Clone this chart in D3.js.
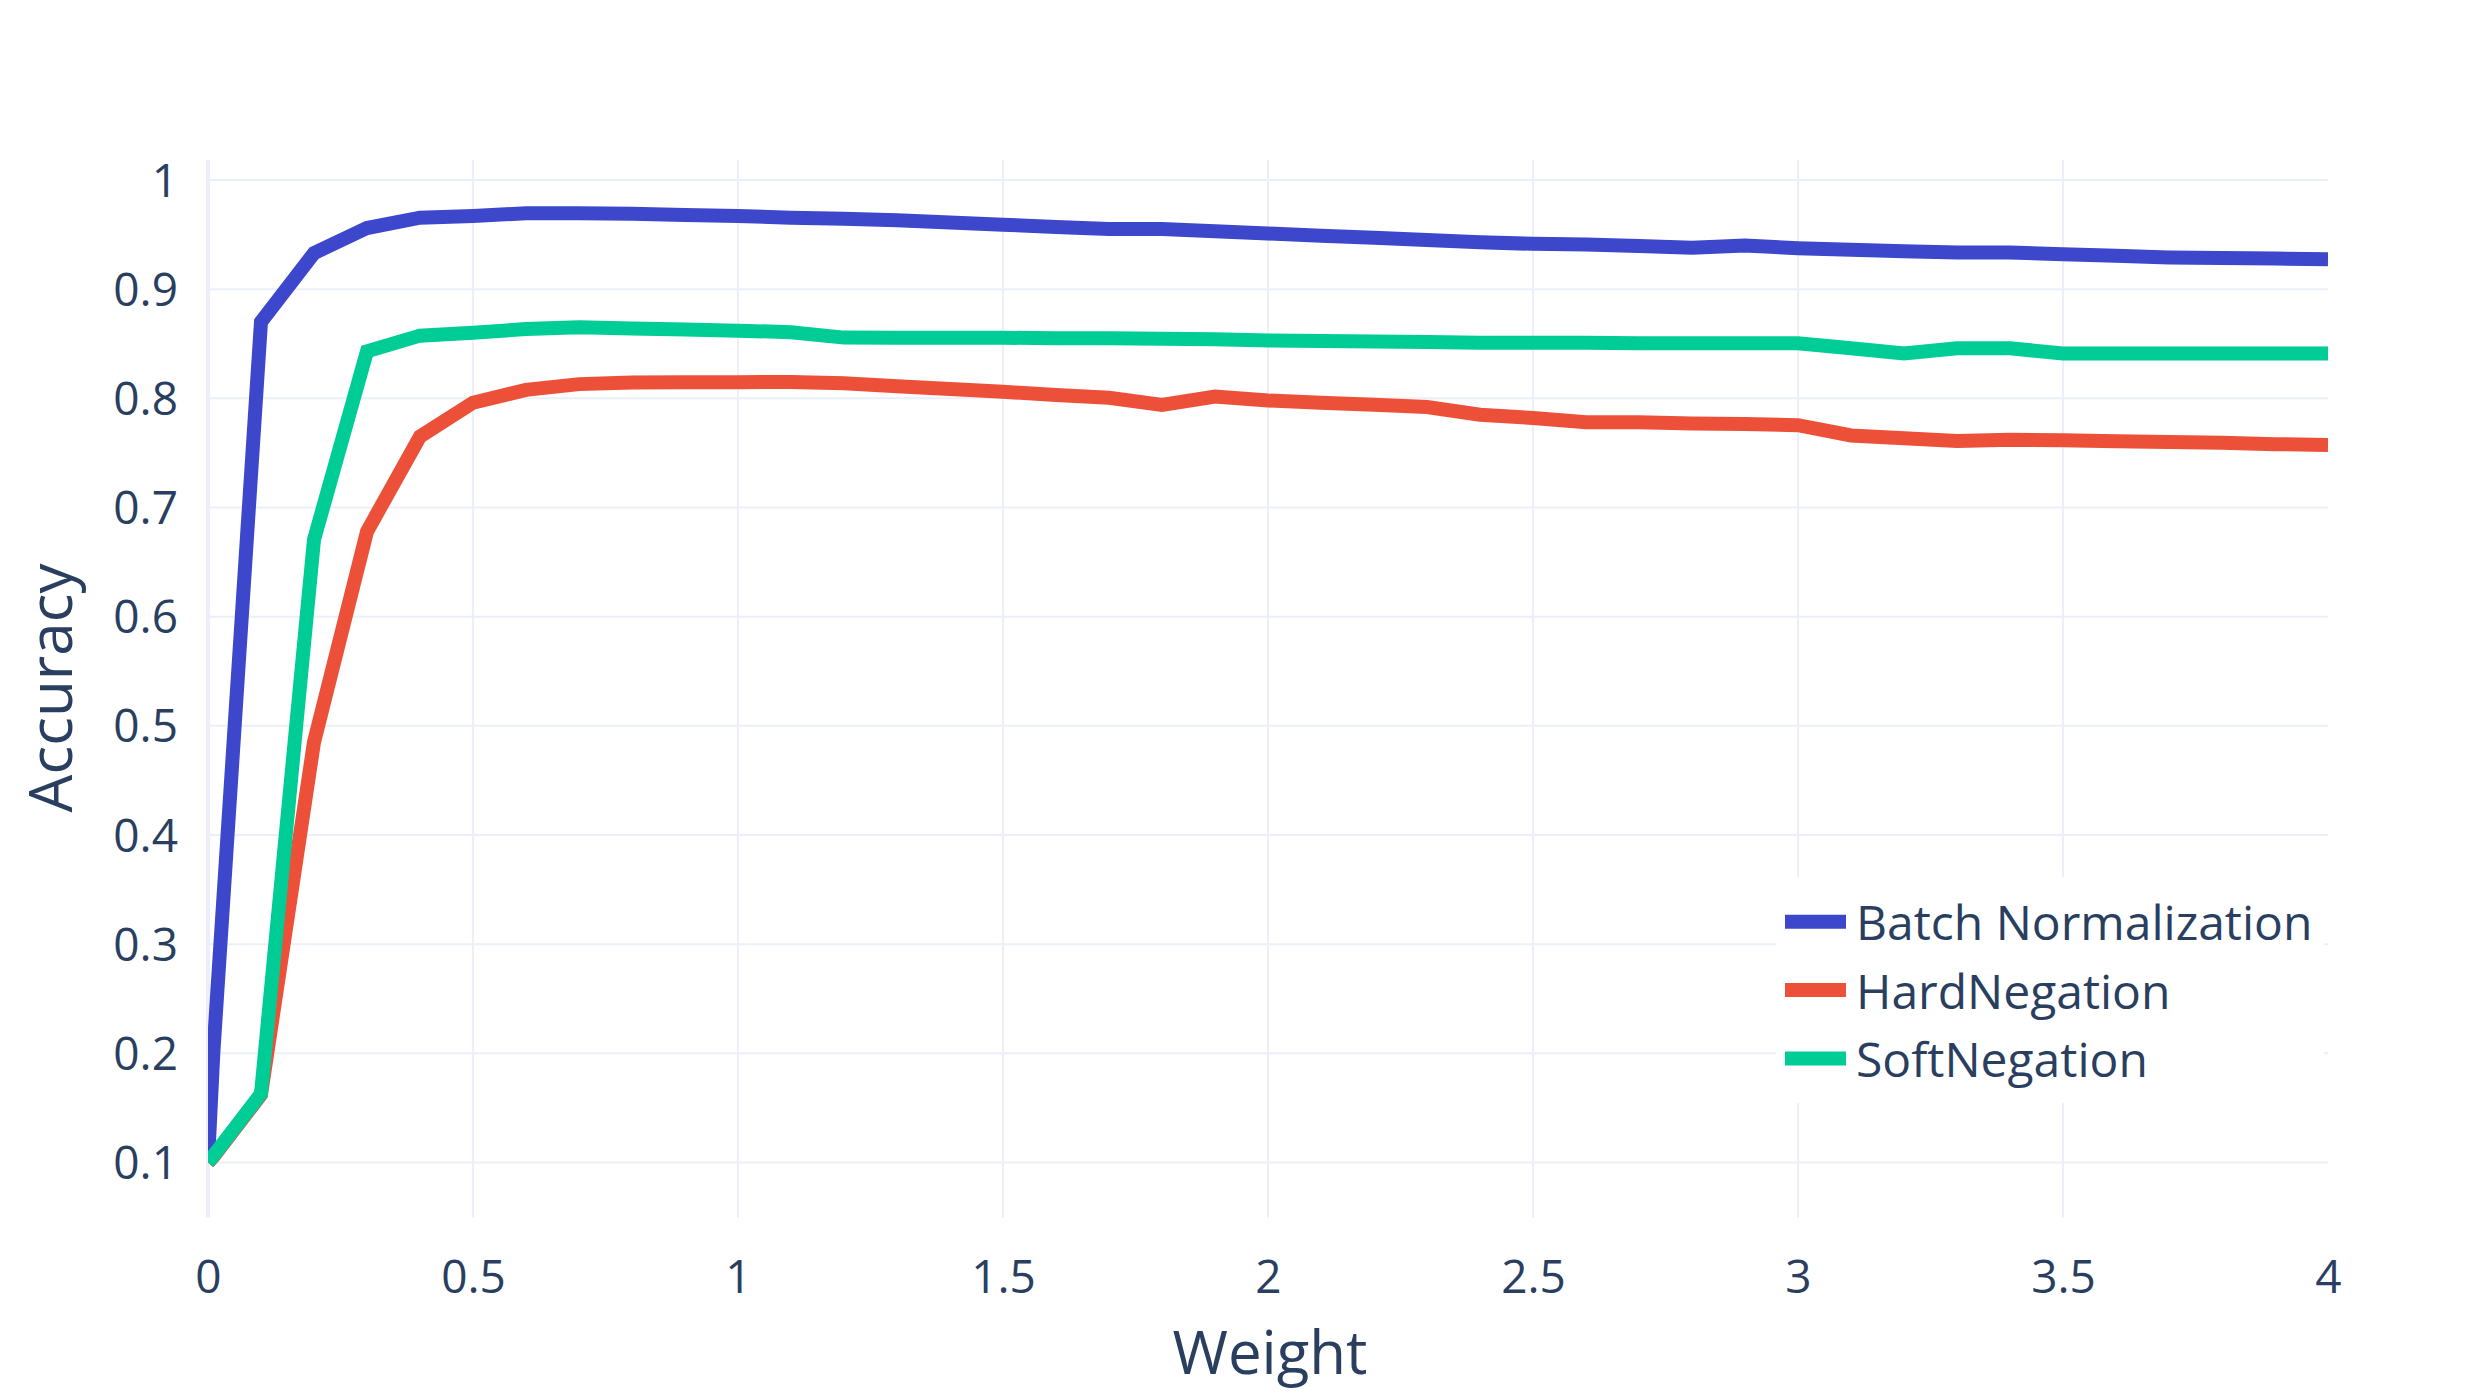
<!DOCTYPE html>
<html>
<head>
<meta charset="utf-8">
<script src="https://cdn.jsdelivr.net/npm/d3@7"></script>
<style>
  html, body { margin: 0; padding: 0; background: #ffffff; }
  svg { display: block; }
</style>
</head>
<body>
<svg id="chart" width="2490" height="1393"></svg>
<script>
// ---------------- data ----------------
const weights = [0, 0.01, 0.1, 0.2, 0.3, 0.4, 0.5, 0.6, 0.7, 0.8, 0.9, 1.0,
  1.1, 1.2, 1.3, 1.4, 1.5, 1.6, 1.7, 1.8, 1.9, 2.0,
  2.1, 2.2, 2.3, 2.4, 2.5, 2.6, 2.7, 2.8, 2.9, 3.0,
  3.1, 3.2, 3.3, 3.4, 3.5, 3.6, 3.7, 3.8, 3.9, 4.0];

const batchNorm = [0.1, 0.2, 0.87, 0.933, 0.956, 0.9655, 0.967, 0.9695, 0.9695, 0.969, 0.968, 0.967,
  0.9655, 0.9645, 0.963, 0.961, 0.959, 0.957, 0.955, 0.955, 0.953, 0.951,
  0.949, 0.947, 0.945, 0.943, 0.9415, 0.941, 0.9395, 0.938, 0.9399, 0.9375,
  0.936, 0.9347, 0.9335, 0.9335, 0.932, 0.9305, 0.929, 0.9285, 0.928, 0.9274];

const hardNeg = [0.1, 0.105, 0.162, 0.485, 0.678, 0.765, 0.796, 0.8077, 0.813, 0.8145, 0.8147, 0.8148,
  0.815, 0.8138, 0.811, 0.8085, 0.806, 0.803, 0.8005, 0.794, 0.8016, 0.798,
  0.796, 0.794, 0.792, 0.785, 0.782, 0.778, 0.778, 0.777, 0.7765, 0.7754,
  0.766, 0.7635, 0.761, 0.762, 0.7615, 0.7607, 0.760, 0.7592, 0.758, 0.7573];

const softNeg = [0.1, 0.106, 0.163, 0.6705, 0.843, 0.8574, 0.860, 0.8635, 0.865, 0.864, 0.863, 0.862,
  0.8605, 0.8556, 0.8555, 0.8555, 0.8555, 0.855, 0.855, 0.8545, 0.854, 0.853,
  0.8525, 0.852, 0.8515, 0.851, 0.851, 0.851, 0.8505, 0.8505, 0.8505, 0.8505,
  0.8459, 0.841, 0.8459, 0.8459, 0.841, 0.841, 0.841, 0.841, 0.841, 0.841];

const seriesNames = ["Batch Normalization", "HardNegation", "SoftNegation"];
const seriesColors = ["#3d47cc", "#ec5039", "#00cc96"];
const seriesValues = [batchNorm, hardNeg, softNeg];

const xTicks = [0, 0.5, 1, 1.5, 2, 2.5, 3, 3.5, 4];
const xTickLabels = ["0", "0.5", "1", "1.5", "2", "2.5", "3", "3.5", "4"];
const yTicks = [0.1, 0.2, 0.3, 0.4, 0.5, 0.6, 0.7, 0.8, 0.9, 1];
const yTickLabels = ["0.1", "0.2", "0.3", "0.4", "0.5", "0.6", "0.7", "0.8", "0.9", "1"];

const xTitle = "Weight";
const yTitle = "Accuracy";

// ---------------- layout ----------------
const plot = { left: 208, right: 2328, top: 160, bottom: 1217.5 };
const textColor = "#2a3f5f";
const gridColor = "#ebf0f8";
const fontFamily = "'Open Sans', 'Noto Sans', sans-serif";

const x = d3.scaleLinear().domain([0, 4]).range([plot.left, plot.right]);
const y = d3.scaleLinear().domain([0.0496, 1.0183]).range([plot.bottom, plot.top]);

const svg = d3.select("#chart");
svg.append("rect").attr("width", 2490).attr("height", 1393).attr("fill", "#ffffff");

// grid
const grid = svg.append("g");
grid.selectAll("line.hg").data(yTicks).enter().append("line")
  .attr("x1", plot.left).attr("x2", plot.right)
  .attr("y1", d => y(d)).attr("y2", d => y(d))
  .attr("stroke", gridColor).attr("stroke-width", 2);
grid.selectAll("line.vg").data(xTicks.filter(d => d > 0 && d < 4)).enter().append("line")
  .attr("x1", d => x(d)).attr("x2", d => x(d))
  .attr("y1", plot.top).attr("y2", plot.bottom)
  .attr("stroke", gridColor).attr("stroke-width", 2);
// zero line
grid.append("line")
  .attr("x1", x(0)).attr("x2", x(0))
  .attr("y1", plot.top).attr("y2", plot.bottom)
  .attr("stroke", gridColor).attr("stroke-width", 4);

// clip
svg.append("defs").append("clipPath").attr("id", "plotclip")
  .append("rect").attr("x", plot.left).attr("y", plot.top)
  .attr("width", plot.right - plot.left).attr("height", plot.bottom - plot.top);

const lineGen = d3.line().x(d => x(d[0])).y(d => y(d[1]));
const linesG = svg.append("g").attr("clip-path", "url(#plotclip)");
seriesValues.forEach((vals, i) => {
  const pts = weights.map((w, j) => [w, vals[j]]);
  linesG.append("path")
    .datum(pts)
    .attr("d", lineGen)
    .attr("fill", "none")
    .attr("stroke", seriesColors[i])
    .attr("stroke-width", 14)
    .attr("stroke-linejoin", "miter");
});

// axes tick labels
const xAxis = d3.axisBottom(x).tickValues(xTicks).tickFormat((d, i) => xTickLabels[i]).tickSize(0).tickPadding(0);
const xg = svg.append("g").attr("transform", `translate(0, ${plot.bottom})`).call(xAxis);
xg.select(".domain").remove();
xg.selectAll("text")
  .attr("y", 1293 - plot.bottom).attr("dy", null)
  .attr("fill", textColor).style("font-family", fontFamily).style("font-size", "46px");

const yAxis = d3.axisLeft(y).tickValues(yTicks).tickFormat((d, i) => yTickLabels[i]).tickSize(0).tickPadding(0);
const yg = svg.append("g").attr("transform", `translate(${plot.left}, 0)`).call(yAxis);
yg.select(".domain").remove();
yg.selectAll("text")
  .attr("x", 178 - plot.left).attr("dy", "0.35em")
  .attr("fill", textColor).style("font-family", fontFamily).style("font-size", "46px");

// axis titles
svg.append("text")
  .attr("x", (plot.left + plot.right) / 2 + 2).attr("y", 1374)
  .attr("text-anchor", "middle")
  .attr("fill", textColor).style("font-family", fontFamily).style("font-size", "60px")
  .text(xTitle);
svg.append("text")
  .attr("transform", "translate(72, 688) rotate(-90)")
  .attr("text-anchor", "middle")
  .attr("fill", textColor).style("font-family", fontFamily).style("font-size", "60px")
  .text(yTitle);

// legend
const legend = svg.append("g");
legend.append("rect")
  .attr("x", 1776).attr("y", 877).attr("width", 548).attr("height", 226)
  .attr("fill", "#ffffff");
const rowCenters = [921.7, 990, 1058.4];
seriesNames.forEach((name, i) => {
  legend.append("line")
    .attr("x1", 1785).attr("x2", 1846)
    .attr("y1", rowCenters[i]).attr("y2", rowCenters[i])
    .attr("stroke", seriesColors[i]).attr("stroke-width", 14);
  legend.append("text")
    .attr("x", 1856).attr("y", rowCenters[i] + 18.5)
    .attr("fill", textColor).style("font-family", fontFamily).style("font-size", "48px")
    .text(name);
});
</script>
</body>
</html>
